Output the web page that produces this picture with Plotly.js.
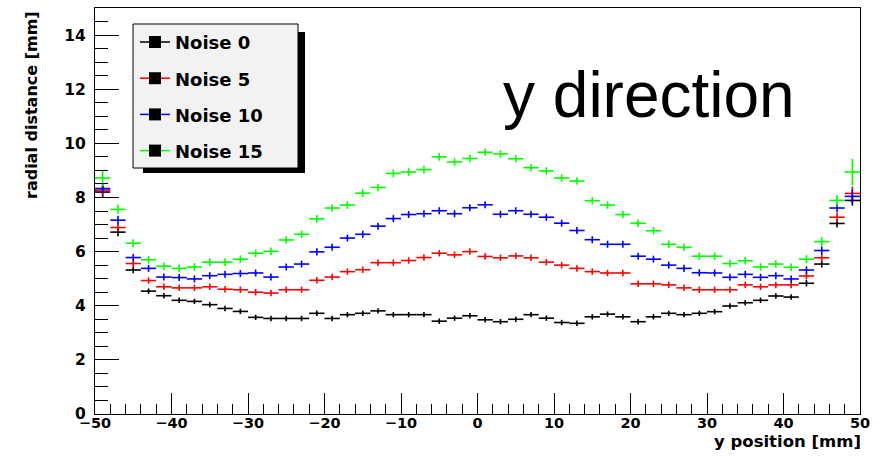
<!DOCTYPE html>
<html>
<head>
<meta charset="utf-8">
<script src="https://cdn.plot.ly/plotly-3.0.1.min.js"></script>
<style>html,body{margin:0;padding:0;background:#fff;}#chart{width:884px;height:458px;}</style>
</head>
<body>
<div id="chart"></div>
<script>
// ---- data ----
const binCenters = [-49,-47,-45,-43,-41,-39,-37,-35,-33,-31,-29,-27,-25,-23,-21,-19,-17,-15,-13,-11,-9,-7,-5,-3,-1,1,3,5,7,9,11,13,15,17,19,21,23,25,27,29,31,33,35,37,39,41,43,45,47,49];
const binHalfWidth = 1;
const seriesNames = ["Noise 0","Noise 5","Noise 10","Noise 15"];
const seriesColors = ["#000000","#ff0000","#0000ff","#00ff00"];

const noise0 = [8.20,6.72,5.32,4.54,4.37,4.20,4.16,4.04,3.90,3.79,3.57,3.53,3.53,3.53,3.72,3.53,3.67,3.72,3.81,3.67,3.67,3.67,3.43,3.54,3.63,3.48,3.41,3.50,3.67,3.54,3.38,3.35,3.59,3.69,3.59,3.41,3.59,3.72,3.67,3.72,3.78,3.99,4.11,4.20,4.36,4.32,4.83,5.54,7.04,7.89];
const noise5 = [8.27,6.89,5.56,4.93,4.70,4.66,4.66,4.70,4.61,4.59,4.50,4.47,4.59,4.59,4.94,5.06,5.26,5.33,5.59,5.59,5.67,5.78,5.94,5.88,6.00,5.82,5.77,5.84,5.77,5.61,5.50,5.38,5.26,5.21,5.21,4.81,4.81,4.77,4.66,4.59,4.59,4.59,4.77,4.70,4.77,4.77,5.10,5.77,7.27,8.15];
const noise10 = [8.33,7.16,5.78,5.38,5.06,5.04,4.99,5.11,5.16,5.19,5.21,5.06,5.43,5.54,5.99,6.16,6.50,6.64,6.94,7.22,7.37,7.40,7.51,7.40,7.62,7.73,7.38,7.51,7.38,7.27,7.05,6.78,6.44,6.27,6.27,5.83,5.72,5.50,5.38,5.22,5.21,5.05,5.16,5.05,5.11,4.99,5.32,6.04,7.61,8.04];
const noise15 = [8.72,7.56,6.31,5.70,5.46,5.38,5.43,5.61,5.61,5.72,5.94,6.01,6.43,6.64,7.21,7.61,7.72,8.16,8.37,8.89,8.94,9.03,9.50,9.31,9.44,9.67,9.61,9.43,9.10,8.98,8.72,8.61,7.88,7.72,7.37,7.05,6.77,6.27,6.16,5.83,5.83,5.56,5.66,5.43,5.54,5.42,5.72,6.37,7.89,8.94];

const err0 = [0.20,0.15,0.12,0.10,0.10,0.10,0.10,0.10,0.10,0.10,0.10,0.10,0.10,0.10,0.10,0.10,0.10,0.10,0.10,0.10,0.10,0.10,0.10,0.10,0.10,0.10,0.10,0.10,0.10,0.10,0.10,0.10,0.10,0.10,0.10,0.10,0.10,0.10,0.10,0.10,0.10,0.10,0.10,0.10,0.10,0.10,0.12,0.13,0.15,0.19];
const err5 = [0.20,0.15,0.13,0.12,0.12,0.12,0.12,0.12,0.12,0.12,0.12,0.12,0.12,0.12,0.12,0.12,0.12,0.12,0.12,0.12,0.12,0.12,0.12,0.12,0.12,0.12,0.12,0.12,0.12,0.12,0.12,0.12,0.12,0.12,0.12,0.12,0.12,0.12,0.12,0.12,0.12,0.12,0.12,0.12,0.12,0.12,0.13,0.14,0.16,0.25];
const err10 = [0.18,0.16,0.14,0.13,0.13,0.13,0.13,0.13,0.13,0.13,0.13,0.13,0.13,0.13,0.13,0.13,0.13,0.13,0.13,0.13,0.13,0.13,0.13,0.13,0.13,0.13,0.13,0.13,0.13,0.13,0.13,0.13,0.13,0.13,0.13,0.13,0.13,0.13,0.13,0.13,0.13,0.13,0.13,0.13,0.13,0.13,0.14,0.15,0.17,0.25];
const err15 = [0.30,0.17,0.15,0.14,0.14,0.14,0.14,0.14,0.14,0.14,0.14,0.14,0.14,0.14,0.14,0.14,0.14,0.14,0.14,0.14,0.14,0.14,0.14,0.14,0.14,0.14,0.14,0.14,0.14,0.14,0.14,0.14,0.14,0.14,0.14,0.14,0.14,0.14,0.14,0.14,0.14,0.14,0.14,0.14,0.14,0.14,0.15,0.17,0.20,0.49];

const xTitle = "y position [mm]";
const yTitle = "radial distance [mm]";
const plotTitle = "y direction";

// ---- build ----
const values = [noise0, noise5, noise10, noise15];
const errors = [err0, err5, err10, err15];

const traces = values.map((v, k) => ({
  type: 'scatter',
  mode: 'markers',
  x: binCenters,
  y: v,
  name: seriesNames[k],
  marker: {size: 2, color: seriesColors[k]},
  error_x: {type: 'constant', value: binHalfWidth, width: 0, thickness: 1.6, color: seriesColors[k]},
  error_y: {type: 'data', array: errors[k], visible: true, width: 0, thickness: 1.6, color: seriesColors[k]},
  hoverinfo: 'skip'
}));

// plot area in pixels (for decoration placement)
const L = 95, R = 860, T = 8, B = 414;
const px = p => (p - L) / (R - L);
const py = p => (B - p) / (B - T);

const boldFont = {family: 'DejaVu Sans', weight: 'bold', color: '#000'};

const shapes = [];
const annotations = [];

// legend shadow and box
shapes.push({type:'rect', xref:'paper', yref:'paper', x0:px(143), x1:px(305), y0:py(173), y1:py(32), fillcolor:'#000', line:{width:0}, layer:'above'});
shapes.push({type:'rect', xref:'paper', yref:'paper', x0:px(133), x1:px(298), y0:py(168), y1:py(24), fillcolor:'#f2f2f2', line:{color:'#000', width:1}, layer:'above'});
seriesNames.forEach((name, k) => {
  const yc = 42 + 36.2 * k;
  shapes.push({type:'line', xref:'paper', yref:'paper', x0:px(140), x1:px(170), y0:py(yc), y1:py(yc), line:{color:seriesColors[k], width:1.5}, layer:'above'});
  shapes.push({type:'rect', xref:'paper', yref:'paper', x0:px(149), x1:px(161), y0:py(yc+6), y1:py(yc-6), fillcolor:'#000', line:{width:0}, layer:'above'});
  annotations.push({xref:'paper', yref:'paper', x:px(173), y:py(yc+1), xanchor:'left', yanchor:'middle', showarrow:false, text:name, font:Object.assign({size:18}, boldFont)});
});

// big text
annotations.push({xref:'paper', yref:'paper', x:px(501), y:py(95), xanchor:'left', yanchor:'middle', showarrow:false, text:plotTitle, font:{family:'Liberation Sans', size:64, color:'#000'}});
// axis titles
annotations.push({xref:'paper', yref:'paper', x:px(31), y:py(9), xanchor:'center', yanchor:'top', textangle:-90, showarrow:false, text:yTitle, font:Object.assign({size:16}, boldFont)});
annotations.push({xref:'paper', yref:'paper', x:px(863), y:py(442), xanchor:'right', yanchor:'middle', showarrow:false, text:xTitle, font:Object.assign({size:16.5}, boldFont)});

const layout = {
  width: 884, height: 458,
  margin: {l: L, r: 884 - R, t: T, b: 458 - B, pad: 0},
  paper_bgcolor: '#fff', plot_bgcolor: '#fff',
  showlegend: false,
  hovermode: false,
  xaxis: {
    range: [-50, 50], tick0: -50, dtick: 10,
    ticks: 'inside', ticklen: 21, tickwidth: 1, tickcolor: '#000',
    minor: {dtick: 2, tick0: -50, ticks: 'inside', ticklen: 10, tickwidth: 1, tickcolor: '#000', showgrid: false},
    showline: true, mirror: true, linecolor: '#000', linewidth: 1,
    showgrid: false, zeroline: false,
    tickfont: Object.assign({size: 14.5}, boldFont),
    ticklabelstandoff: -4
  },
  yaxis: {
    range: [0, 15], tick0: 0, dtick: 2,
    ticks: 'inside', ticklen: 24, tickwidth: 1, tickcolor: '#000',
    minor: {dtick: 0.5, tick0: 0, ticks: 'inside', ticklen: 13, tickwidth: 1, tickcolor: '#000', showgrid: false},
    showline: true, mirror: true, linecolor: '#000', linewidth: 1,
    showgrid: false, zeroline: false,
    tickfont: Object.assign({size: 15.5}, boldFont),
    ticklabelstandoff: 5
  },
  shapes: shapes,
  annotations: annotations
};

Plotly.newPlot('chart', traces, layout, {displayModeBar: false, staticPlot: true});
</script>
</body>
</html>
